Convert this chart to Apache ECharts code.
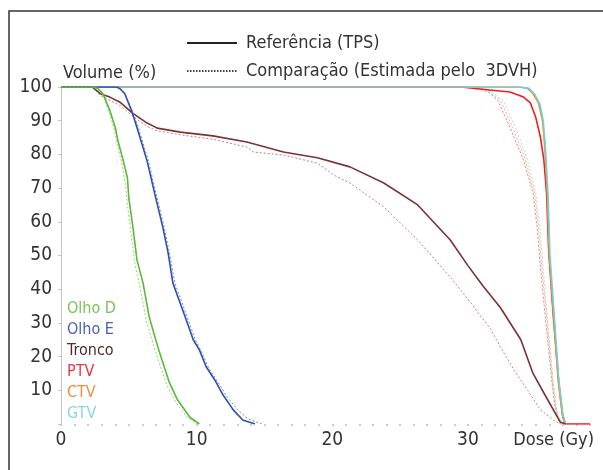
<!DOCTYPE html>
<html>
<head>
<meta charset="utf-8">
<script src="https://cdn.jsdelivr.net/npm/echarts@6/dist/echarts.min.js"></script>
<style>
  html, body { margin: 0; padding: 0; background: #fff; }
  #chart { width: 603px; height: 470px; }
</style>
</head>
<body>
<div id="chart"></div>
<script>
// DVH curves, [dose Gy, volume %]
const olhoDRef = [[0,100],[2.4,100],[2.7,99.6],[3.1,98],[3.6,93],[4.0,88],[4.2,84],[4.6,78],[4.9,73],[5.0,67],[5.3,58.5],[5.6,48.7],[6.05,41.8],[6.5,31.8],[7.2,22],[8.0,12.2],[8.6,7.1],[9.5,2],[10.2,0]]
const olhoDComp = [[0,100],[2.4,100],[2.7,99.5],[3.1,97.5],[3.6,92],[3.95,87],[4.15,83],[4.5,77],[4.75,71],[4.9,65],[5.15,57],[5.45,47.5],[5.85,40],[6.3,30.5],[7.0,21],[7.8,11.5],[8.5,6.2],[9.4,1.6],[10.1,0]]
const olhoERef = [[0,100],[4.1,100],[4.35,99.5],[4.7,98],[5.2,93],[5.6,88],[6.35,78],[6.9,68.5],[7.5,58.5],[7.9,50.7],[8.25,41.8],[9.15,31.8],[9.75,25],[10.2,22],[10.7,17],[11.35,13],[11.95,8.6],[12.7,4.2],[13.4,1.2],[14.3,0]]
const olhoEComp = [[0,100],[4.1,100],[4.35,99.6],[4.7,98.2],[5.25,93],[5.7,88],[6.45,78],[7.0,68.5],[7.6,58.5],[8.0,50.7],[8.4,41.8],[9.3,31.8],[9.9,25],[10.35,21.5],[10.9,16.5],[11.55,12.6],[12.2,8.3],[13.0,4.3],[13.8,1.5],[14.8,0]]
const troncoRef = [[0,100],[2.3,100],[2.9,98],[3.6,97],[4.35,95.5],[5.25,92.3],[6.35,89.3],[7.1,87.8],[8.8,86.6],[11.2,85.5],[13.7,83.7],[16.4,80.7],[18.9,79],[21.3,76.3],[23.8,71.5],[26.3,65],[28.7,54.6],[30.0,47],[31.1,41],[32.4,34.5],[33.9,25],[34.8,15],[35.6,9.2],[36.3,4.2],[36.8,0.6],[37.2,0]]
const troncoComp = [[0,100],[2.3,100],[2.9,97.5],[4.35,94.5],[5.25,91.5],[6.35,88.3],[7.1,87],[8.8,85.8],[11.2,84.5],[13.7,82.2],[14.2,80.7],[16.4,79.8],[18.9,77.4],[20.1,73.9],[21.3,71.5],[23.8,64.4],[26.3,54.6],[28.7,43.6],[30.2,36],[31.7,28],[32.4,22.8],[33.4,16],[34.4,10],[35.35,4.2],[36.3,1.2],[36.8,0]]
const ptvRef = [[0,100],[29.5,100],[31.4,99.2],[33.1,98.5],[34.1,97],[34.6,95.3],[35.0,91],[35.35,85],[35.6,78.3],[35.8,68.5],[35.95,52],[36.0,48.7],[36.3,31.8],[36.7,12.2],[37.0,2],[37.2,0],[39,0]]
const ptvComp = [[0,100],[30.2,100],[30.9,99.3],[31.5,98.5],[32.2,96],[33.1,88],[34.1,78.3],[34.8,68.5],[35.1,58.5],[35.3,48.7],[35.7,31.8],[36.2,12.2],[36.45,4],[36.8,0],[39,0]]
const ctvRef = [[0,100],[33.8,100],[34.4,99.6],[34.8,98],[35.2,95.3],[35.5,90],[35.65,83],[35.85,68.5],[36.0,50],[36.3,33],[36.65,13],[36.95,3],[37.15,0]]
const ctvComp = [[0,100],[30.5,100],[31.3,99.2],[32.4,96],[33.3,88],[34.25,78.3],[34.9,68.5],[35.2,58.5],[35.4,48.7],[35.8,31.8],[36.25,12.2],[36.5,4],[36.85,0]]
const gtvRef = [[0,100],[33.9,100],[34.5,99.6],[34.9,98],[35.3,95],[35.55,90],[35.7,83],[35.9,68.5],[36.05,50],[36.35,33],[36.7,13],[37.0,3],[37.2,0]]
const gtvComp = [[0,100],[30.7,100],[31.5,99.2],[32.6,96],[33.5,88],[34.4,78.3],[35.0,68.5],[35.3,58.5],[35.5,48.7],[35.85,31.8],[36.3,12.2],[36.55,4],[36.9,0]]

const organNames = ['Olho D', 'Olho E', 'Tronco', 'PTV', 'CTV', 'GTV']
const organTextColors = ['#78c257', '#4a5fb0', '#4a2c2c', '#ef3340', '#f58b3c', '#8ad6e2']
const legendTop = ['Referência (TPS)', 'Comparação (Estimada pelo  3DVH)']

const FONT = "'Liberation Sans Narrow', 'DejaVu Sans Condensed', sans-serif"

const chart = echarts.init(document.getElementById('chart'))

// solid = reference, dotted = comparison
const curve = (name, data, color, dotted) => ({
  name: name,
  type: 'line',
  data: data,
  symbol: 'none',
  silent: true,
  lineStyle: dotted
    ? { color: color, width: 1, type: [2, 2] }
    : { color: color, width: 1.6 },
  itemStyle: { color: color }
})

const option = {
  animation: false,
  backgroundColor: '#fff',
  graphic: [
    {
      type: 'rect',
      shape: { x: 9, y: 11, width: 700, height: 600 },
      style: { fill: 'none', stroke: '#333', lineWidth: 1.5 },
      silent: true
    }
  ],
  grid: { left: 61, right: 13, top: 87, bottom: 46 },
  legend: [
    {
      data: legendTop,
      orient: 'vertical',
      left: 186,
      top: 34,
      padding: 0,
      itemWidth: 50,
      itemHeight: 20,
      itemGap: 10,
      selectedMode: false,
      itemStyle: { color: 'rgba(0,0,0,0)', borderWidth: 0 },
      textStyle: { fontFamily: FONT, fontSize: 18, color: '#333', padding: [0, 0, 0, 4] }
    },
    {
      data: organNames.map((n, i) => ({ name: n, textStyle: { color: organTextColors[i] } })),
      orient: 'vertical',
      left: 62,
      top: 301,
      padding: 0,
      icon: 'rect',
      itemWidth: 0,
      itemHeight: 0,
      itemGap: 5,
      selectedMode: false,
      textStyle: { fontFamily: FONT, fontSize: 16 }
    }
  ],
  xAxis: {
    type: 'value',
    min: 0,
    max: 39,
    interval: 1,
    name: 'Dose (Gy)',
    nameLocation: 'end',
    nameGap: 4,
    nameTextStyle: {
      fontFamily: FONT, fontSize: 18, color: '#333',
      align: 'right', verticalAlign: 'top', padding: [7, 0, 0, 0]
    },
    axisLine: { show: false },
    axisTick: { show: true, length: 2, lineStyle: { color: '#bbb', width: 1.5 } },
    splitLine: { show: false },
    axisLabel: {
      fontFamily: FONT, fontSize: 19, color: '#333', margin: 7,
      formatter: v => (v % 10 === 0 ? String(v) : '')
    }
  },
  yAxis: {
    type: 'value',
    min: 0,
    max: 100,
    interval: 10,
    name: 'Volume (%)',
    nameLocation: 'end',
    nameGap: 5,
    nameTextStyle: {
      fontFamily: FONT, fontSize: 18, color: '#333',
      align: 'left', padding: [0, 0, 0, 2]
    },
    axisLine: { show: true, lineStyle: { color: '#c4c4c4', width: 1 } },
    axisTick: { show: true, length: 3, lineStyle: { color: '#c4c4c4' } },
    splitLine: { show: false },
    axisLabel: {
      fontFamily: FONT, fontSize: 19, color: '#333', margin: 9,
      padding: [5, 0, 0, 0],
      formatter: v => (v === 0 ? '' : String(v))
    }
  },
  series: [
    { name: legendTop[0], type: 'line', data: [], symbol: 'none',
      lineStyle: { color: '#222', width: 1.5 }, itemStyle: { color: '#222' } },
    { name: legendTop[1], type: 'line', data: [], symbol: 'none',
      lineStyle: { color: '#444', width: 1, type: [1.5, 1.5] }, itemStyle: { color: '#444' } },
    curve('PTV', ptvComp, '#f37b7b', true),
    curve('CTV', ctvComp, '#f9b070', true),
    curve('GTV', gtvComp, '#9edfea', true),
    curve('PTV', ptvRef, '#ee1d24', false),
    curve('CTV', ctvRef, '#f7901e', false),
    curve('GTV', gtvRef, '#6fcfe0', false),
    curve('Tronco', troncoComp, '#b88585', true),
    curve('Tronco', troncoRef, '#7b3232', false),
    curve('Olho E', olhoEComp, '#7387cf', true),
    curve('Olho E', olhoERef, '#2f4fae', false),
    curve('Olho D', olhoDComp, '#94d277', true),
    curve('Olho D', olhoDRef, '#5cb83a', false)
  ]
}

chart.setOption(option)
</script>
</body>
</html>
